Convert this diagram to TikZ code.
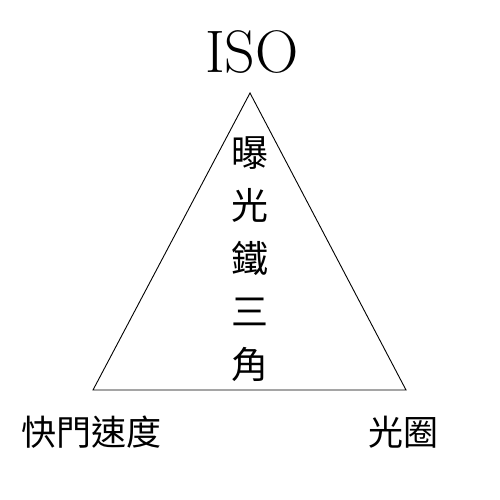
\documentclass[tikz,border=0pt]{standalone}
\usepackage{fontspec}
\newfontfamily\cjk{Noto Sans CJK TC}
\begin{document}
\begin{tikzpicture}[x=1pt,y=-1pt,
  tri/.style={draw=black,line width=0.9pt},
  cjklab/.style={font=\cjk\fontsize{35}{35}\selectfont,inner sep=0pt,anchor=center},
  vlab/.style={font=\cjk\fontsize{37}{53}\selectfont,inner sep=0pt,align=center,anchor=north}]
\useasboundingbox (0,0) rectangle (500,500);
\coordinate (A) at (250,93);
\coordinate (L) at (93,390);
\coordinate (R) at (406,390);
\draw[tri] (A) -- (L) -- (R) -- cycle;
\node[font=\fontsize{60}{60}\selectfont,inner sep=0pt,anchor=base] (iso) at (252,73) {ISO};
\node[vlab] (mid) at (250,136) {曝\\光\\鐵\\三\\角};
\node[cjklab] (shutter) at (91,432) {快門速度};
\node[cjklab] (aperture) at (403,432) {光圈};
\end{tikzpicture}
\end{document}
